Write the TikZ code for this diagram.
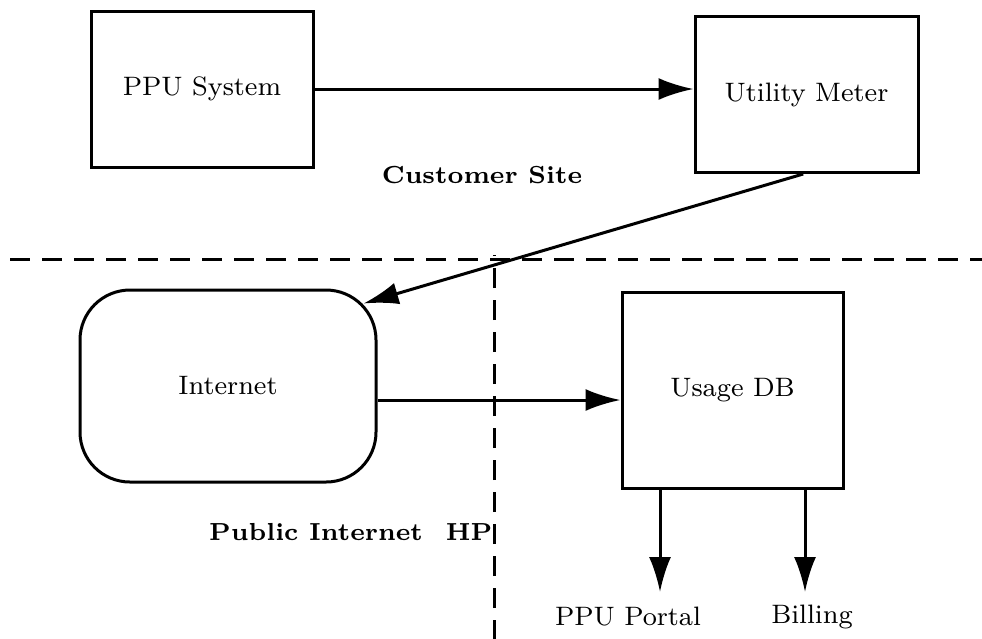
\documentclass[tikz,border=0pt]{standalone}
\usetikzlibrary{arrows.meta}
\begin{document}
\begin{tikzpicture}[x=0.3pt, y=-0.3pt, line width=0.9pt,
  font=\fontsize{8}{10}\selectfont,
  box/.style={draw, minimum width=#1, minimum height=46.8pt, inner sep=0pt},
  flow/.style={-{Latex[length=10.5pt,width=6.6pt]}},
  site/.style={font=\fontsize{7.4}{9}\selectfont\bfseries},
  sep/.style={dash pattern=on 6pt off 3.6pt}]
  \useasboundingbox (0,0) rectangle (982,638);
  % customer site
  \node[box=66.6pt] (ppu) at (202,89) {PPU System};
  \node[box=66.9pt] (meter) at (806.5,94.5) {Utility Meter};
  \draw[flow] (ppu.east |- 0,89) -- (meter.west |- 0,89);
  \node[site] (cust) at (482,175) {Customer Site};
  % boundaries
  \coordinate (hl) at (10,259);
  \coordinate (hr) at (982,259);
  \coordinate (vt) at (494,255);
  \coordinate (vb) at (494,640);
  \draw[sep] (hl) -- (hr);
  \draw[sep] (vb) -- (vt);
  % public internet / HP
  \node[draw, rounded corners=15pt, minimum width=88.8pt, minimum height=57.6pt] (inet) at (228,386) {Internet};
  \draw[flow] ([xshift=-1pt]meter.south) -- ([xshift=-4.2pt,yshift=-4.5pt]inet.north east);
  \node[box=66.3pt, minimum height=58.8pt] (usage) at (732.5,390) {Usage DB};
  \draw[flow] (inet.east |- 0,400) -- (usage.west |- 0,400);
  \node[site] (pub) at (316,532) {Public Internet};
  \node[site] (hp) at (469,532) {HP};
  \node (portal) at (628,617) {PPU Portal};
  \node (billing) at (812,617) {Billing};
  \coordinate (pa) at (660,592);
  \coordinate (ba) at (805,592);
  \draw[flow] (usage.south -| pa) -- (pa);
  \draw[flow] (usage.south -| ba) -- (ba);
\end{tikzpicture}
\end{document}
